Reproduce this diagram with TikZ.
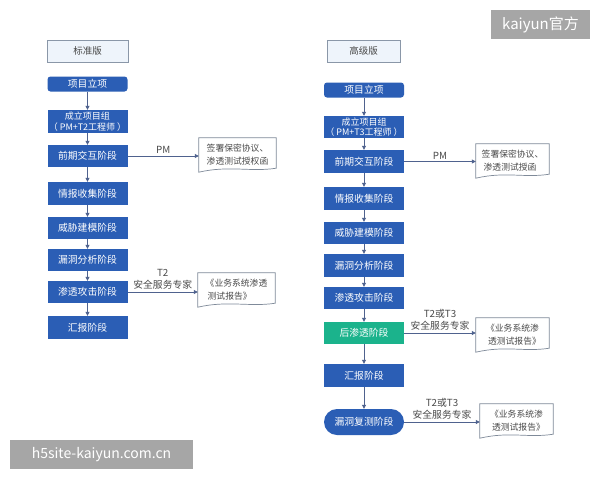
\documentclass[tikz,border=0pt]{standalone}
\usepackage{fontspec}
\setmainfont{Noto Sans CJK SC}
\usetikzlibrary{arrows.meta,calc}
\definecolor{bluebox}{HTML}{2B5EB5}
\definecolor{greenbox}{HTML}{1BB38C}
\definecolor{arrowc}{HTML}{4F628E}
\definecolor{hdrfill}{HTML}{EEF4FB}
\definecolor{hdrline}{HTML}{8A97A8}
\definecolor{doclinec}{HTML}{7F8A99}
\definecolor{wmgray}{HTML}{A6A6A6}
\definecolor{txtgray}{HTML}{4A4A4A}
\newcommand\docshape[1]{\draw[doclinec,line width=0.7pt] (#1.north west) -- (#1.north east) -- ([yshift=4pt]#1.south east) .. controls ([xshift=-25pt,yshift=0pt]#1.south east) and ([xshift=30pt,yshift=7pt]#1.south west) .. (#1.south west) -- cycle;}
\tikzset{
  stepbox/.style={fill=bluebox,text=white,minimum width=80pt,inner sep=0pt,align=center,font=\fontsize{9.8}{11}\selectfont},
  hdr/.style={fill=hdrfill,draw=hdrline,line width=0.8pt,text=txtgray,minimum height=22pt,inner sep=0pt,font=\fontsize{9.5}{11}\selectfont},
  flow/.style={draw=arrowc,line width=0.8pt,-{Triangle[length=4pt,width=4pt]}},
  docnode/.style={minimum width=77pt,minimum height=34pt,inner sep=0pt,align=left,text=txtgray,font=\fontsize{8.8}{13}\selectfont},
  lbl/.style={midway,above,align=center,inner sep=2pt,text=txtgray,font=\fontsize{9.8}{12}\selectfont},
  wm/.style={fill=wmgray,text=white,inner sep=0pt}
}
\begin{document}
\begin{tikzpicture}[x=1pt,y=-1pt]
\fill[white] (0,0) rectangle (600,480);
\useasboundingbox (0,0) rectangle (600,480);
% left column
\node[hdr,minimum width=81pt] (lh) at (87.5,51) {标准版};
\node[stepbox,minimum height=15pt,rounded corners=3pt] (l1) at (87.5,84) {项目立项};
\node[stepbox,minimum height=23pt,font=\fontsize{9}{10.5}\selectfont] (l2) at (87.5,121.5) {成立项目组\\（ PM+T2工程师 ）};
\node[stepbox,minimum height=22pt] (l3) at (87.5,156) {前期交互阶段};
\node[stepbox,minimum height=23pt] (l4) at (87.5,193.5) {情报收集阶段};
\node[stepbox,minimum height=22pt] (l5) at (87.5,228) {威胁建模阶段};
\node[stepbox,minimum height=22pt] (l6) at (87.5,260) {漏洞分析阶段};
\node[stepbox,minimum height=22pt] (l7) at (87.5,292) {渗透攻击阶段};
\node[stepbox,minimum height=23pt] (l8) at (87.5,327.5) {汇报阶段};
\foreach \a/\b in {l1/l2,l2/l3,l3/l4,l4/l5,l5/l6,l6/l7,l7/l8} \draw[flow] (\a) -- (\b);
\node[docnode] (ld1) at (237.5,155) {签署保密协议、\\渗透测试授权函};
\docshape{ld1}
\node[docnode] (ld2) at (236.5,290) {《业务系统渗透\\\ 测试报告》};
\docshape{ld2}
\draw[flow] (l3.east) -- (l3.east -| ld1.west) node[lbl] {PM};
\draw[flow] (l7.east) -- (l7.east -| ld2.west) node[lbl] {T2\\安全服务专家};
% right column
\node[hdr,minimum width=73pt] (rh) at (363.5,51) {高级版};
\node[stepbox,minimum height=15pt,rounded corners=3pt] (r1) at (364,90) {项目立项};
\node[stepbox,minimum height=22pt,font=\fontsize{9}{10.5}\selectfont] (r2) at (364,127) {成立项目组\\（ PM+T3工程师 ）};
\node[stepbox,minimum height=23pt] (r3) at (364,161.5) {前期交互阶段};
\node[stepbox,minimum height=23pt] (r4) at (364,198.5) {情报收集阶段};
\node[stepbox,minimum height=22pt] (r5) at (364,233) {威胁建模阶段};
\node[stepbox,minimum height=23pt] (r6) at (364,265.5) {漏洞分析阶段};
\node[stepbox,minimum height=22pt] (r7) at (364,298) {渗透攻击阶段};
\node[stepbox,fill=greenbox,minimum height=22pt] (r8) at (364,333) {后渗透阶段};
\node[stepbox,minimum height=23pt] (r9) at (364,375.5) {汇报阶段};
\node[stepbox,minimum height=26pt,rounded corners=13pt] (r10) at (364,422) {漏洞复测阶段};
\foreach \a/\b in {r1/r2,r2/r3,r3/r4,r4/r5,r5/r6,r6/r7,r7/r8,r8/r9,r9/r10} \draw[flow] (\a) -- (\b);
\node[docnode,minimum width=73pt] (rd1) at (512.5,161) {签署保密协议、\\\ 渗透测试授函};
\docshape{rd1}
\node[docnode,minimum width=73pt] (rd2) at (512.5,335) {\ 《业务系统渗\\\ \ 透测试报告》};
\docshape{rd2}
\node[docnode,minimum width=73pt] (rd3) at (516.5,421) {\ 《业务系统渗\\\ \ 透测试报告》};
\docshape{rd3}
\draw[flow] (r3.east) -- (r3.east -| rd1.west) node[lbl] {PM};
\draw[flow] (r8.east) -- (r8.east -| rd2.west) node[lbl] {T2或T3\\安全服务专家};
\draw[flow] (r10.east) -- (r10.east -| rd3.west) node[lbl] {T2或T3\\安全服务专家};
% watermarks
\node[wm,minimum width=99pt,minimum height=29pt,font=\fontsize{15}{17}\selectfont] (wm1) at (540.5,24.5) {kaiyun官方};
\node[wm,minimum width=183pt,minimum height=29pt,font=\fontsize{14}{16}\selectfont] (wm2) at (101.5,454.5) {h5site-kaiyun.com.cn};
\end{tikzpicture}
\end{document}
